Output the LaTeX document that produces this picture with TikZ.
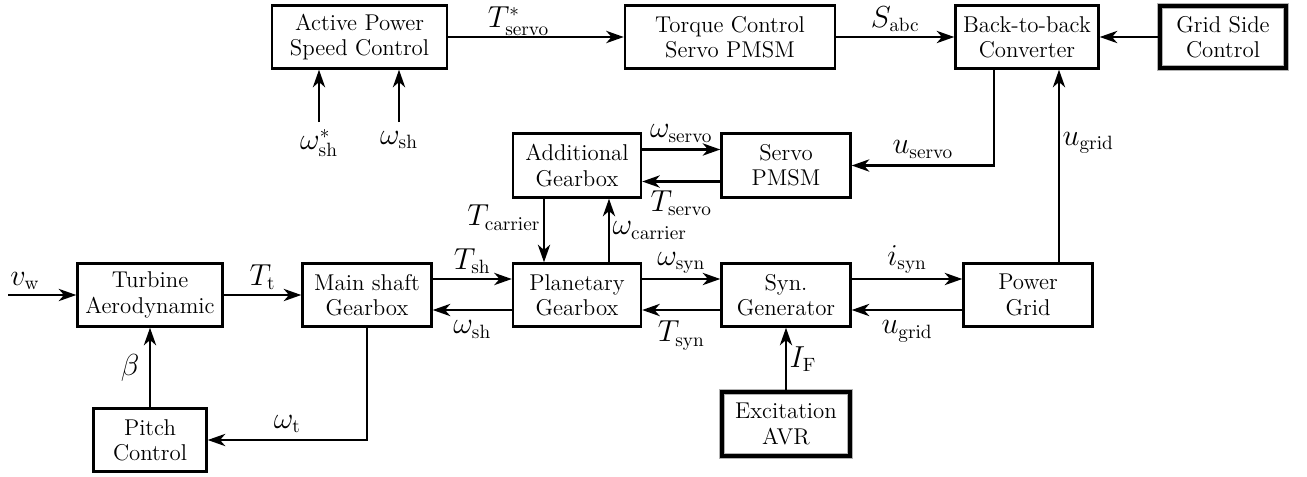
\documentclass[tikz,border=0pt]{standalone}
\usepackage{amsmath,amssymb}
\usetikzlibrary{arrows.meta,calc}
\newcommand{\blockfont}{\fontsize{13}{14.4}\selectfont}
\tikzset{block/.style={draw, line width=1.4pt, align=center, inner sep=0pt, minimum height=1.26cm, font=\blockfont}}
\tikzset{blockhl/.style={block, line width=1.9pt, preaction={draw=black!30, line width=3.4pt}}}
\tikzset{sig/.style={line width=1.2pt, -{Stealth[length=10pt,width=7pt,inset=3pt]}}}
\tikzset{lbl/.style={font=\fontsize{16}{19}\selectfont, inner sep=1.5pt}}

\begin{document}
\begin{tikzpicture}
\useasboundingbox (0,0) rectangle (26.14,-9.52);

\node (apsc) at (7.19,-0.74)[block, minimum width=3.5cm]{Active Power\\Speed Control};
\node (tcs) at (14.60,-0.74)[block, minimum width=4.2cm]{Torque Control\\Servo PMSM};
\node (b2b) at (20.54,-0.74)[block, minimum width=2.86cm]{Back-to-back\\Converter};
\node (gsc) at (24.46,-0.74)[blockhl, minimum width=2.52cm, minimum height=1.24cm]{Grid Side\\Control};

\node (addg) at (11.54,-3.31)[block, minimum width=2.56cm, minimum height=1.28cm]{Additional\\Gearbox};
\node (servo) at (15.72,-3.31)[block, minimum width=2.58cm, minimum height=1.28cm]{Servo\\PMSM};

\node (turb) at (3.0,-5.9)[block, minimum width=2.9cm]{Turbine\\Aerodynamic};
\node (msg) at (7.34,-5.9)[block, minimum width=2.58cm]{Main shaft\\Gearbox};
\node (plan) at (11.54,-5.9)[block, minimum width=2.56cm]{Planetary\\Gearbox};
\node (syn) at (15.72,-5.9)[block, minimum width=2.58cm]{Syn.\\Generator};
\node (grid) at (20.56,-5.9)[block, minimum width=2.58cm]{Power\\Grid};

\node (pitch) at (3.0,-8.8)[block, minimum width=2.26cm]{Pitch\\Control};
\node (exc) at (15.72,-8.48)[blockhl, minimum width=2.56cm, minimum height=1.28cm]{Excitation\\AVR};

\coordinate (vw) at (0.16,-5.9);
\coordinate (ws1) at (6.38,-2.44);
\coordinate (ws2) at (7.98,-2.44);
\coordinate (tc) at (10.88,0);
\coordinate (wc) at (12.18,0);
\coordinate (us) at (19.88,0);
\coordinate (ug) at (21.18,0);

%top row
\draw[sig] (apsc) -- node[lbl, above=-1pt, pos=0.4]{$T^*_{\mathrm{servo}}$} (tcs);
\draw[sig] (tcs) -- node[lbl, above=1pt]{$S_{\mathrm{abc}}$} (b2b);
\draw[sig] (gsc) -- (b2b);
\draw[sig] (ws1) node[lbl, below=2pt]{$\omega^*_{\mathrm{sh}}$} -- (apsc.south -| ws1);
\draw[sig] (ws2) node[lbl, below=3pt]{$\omega_{\mathrm{sh}}$} -- (apsc.south -| ws2);

%servo branch
\draw[sig] (b2b.south -| us) |- node[lbl, above=2pt, pos=0.75]{$u_{\mathrm{servo}}$} (servo);
\draw[sig] ([yshift=0.32cm]addg.east) -- node[lbl, above=2pt]{$\omega_{\mathrm{servo}}$} ([yshift=0.32cm]servo.west);
\draw[sig] ([yshift=-0.32cm]servo.west) -- node[lbl, below=3pt]{$T_{\mathrm{servo}}$} ([yshift=-0.32cm]addg.east);
\draw[sig] (addg.south -| tc) -- node[lbl, left, pos=0.3]{$T_{\mathrm{carrier}}$} (plan.north -| tc);
\draw[sig] (plan.north -| wc) -- node[lbl, right, pos=0.5]{$\omega_{\mathrm{carrier}}$} (addg.south -| wc);

%drive train
\draw[sig] (vw) -- node[lbl, above=1pt, pos=0.25]{$v_{\mathrm{w}}$} (turb);
\draw[sig] (turb) -- node[lbl, above=1pt]{$T_{\mathrm{t}}$} (msg);
\draw[sig] ([yshift=0.32cm]msg.east) -- node[lbl, above=1pt]{$T_{\mathrm{sh}}$} ([yshift=0.32cm]plan.west);
\draw[sig] ([yshift=-0.3cm]plan.west) -- node[lbl, below=4pt]{$\omega_{\mathrm{sh}}$} ([yshift=-0.3cm]msg.east);
\draw[sig] ([yshift=0.32cm]plan.east) -- node[lbl, above=1pt]{$\omega_{\mathrm{syn}}$} ([yshift=0.32cm]syn.west);
\draw[sig] ([yshift=-0.3cm]syn.west) -- node[lbl, below=4pt]{$T_{\mathrm{syn}}$} ([yshift=-0.3cm]plan.east);
\draw[sig] ([yshift=0.32cm]syn.east) -- node[lbl, above=1pt]{$i_{\mathrm{syn}}$} ([yshift=0.32cm]grid.west);
\draw[sig] ([yshift=-0.3cm]grid.west) -- node[lbl, below=4pt]{$u_{\mathrm{grid}}$} ([yshift=-0.3cm]syn.east);
\draw[sig] (exc) -- node[lbl, right]{$I_{\mathrm{F}}$} (syn);
\draw[sig] (grid.north -| ug) -- node[lbl, right, pos=0.62]{$u_{\mathrm{grid}}$} (b2b.south -| ug);

%pitch loop
\draw[sig] (msg.south) |- node[lbl, above=2pt, pos=0.75]{$\omega_{\mathrm{t}}$} (pitch);
\draw[sig] (pitch) -- node[lbl, left=4pt]{$\beta$} (turb);
\end{tikzpicture}
\end{document}
